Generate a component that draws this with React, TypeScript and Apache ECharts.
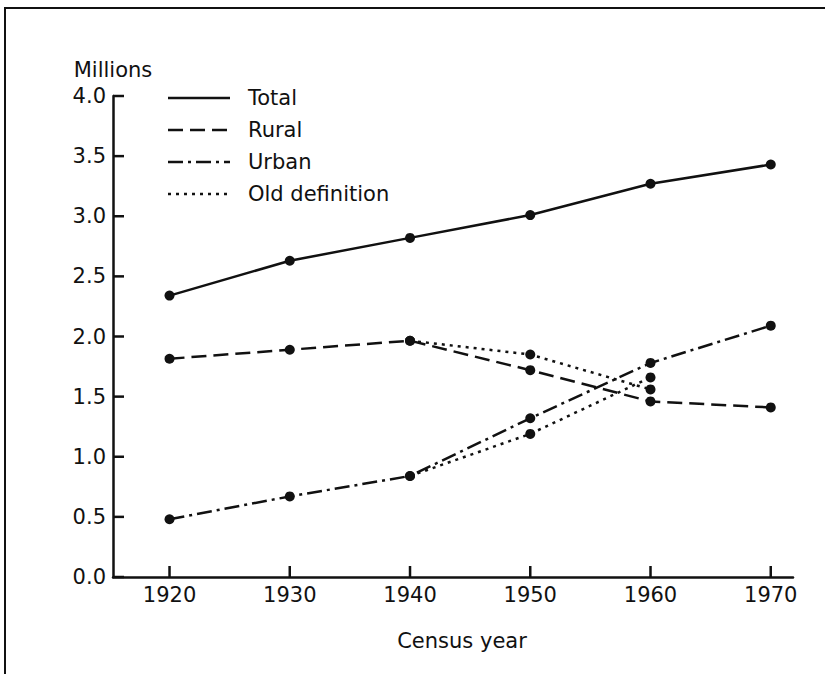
import React, { useEffect, useRef } from "react";
import * as echarts from "echarts";

const years = [1920, 1930, 1940, 1950, 1960, 1970];
const totalValues = [2.34, 2.63, 2.82, 3.01, 3.27, 3.43];
const ruralValues = [1.815, 1.89, 1.965, 1.72, 1.46, 1.41];
const urbanValues = [0.48, 0.67, 0.84, 1.32, 1.78, 2.09];
const oldYears = [1940, 1950, 1960];
const oldRuralValues = [1.965, 1.85, 1.56];
const oldUrbanValues = [0.84, 1.19, 1.66];
const yTicks = [0, 0.5, 1, 1.5, 2, 2.5, 3, 3.5, 4];
const legendNames = ["Total", "Rural", "Urban", "Old definition"];
const yAxisTitle = "Millions";
const xAxisTitle = "Census year";

const FONT = "DejaVu Sans";
const FS = 21;
const INK = "#111";
const TICK = 11;

const dashes: Record<string, any> = {
  Total: "solid",
  Rural: [15, 7],
  Urban: [15, 5, 3, 5],
  "Old definition": [3, 5],
};

export default function App() {
  const ref = useRef<HTMLDivElement>(null);
  useEffect(() => {
    document.body.style.margin = "0";
    if (!ref.current) return;
    const chart = echarts.init(ref.current, undefined, { renderer: "svg" });

    const mk = (name: string, xs: number[], vs: number[]) => ({
      type: "line",
      name,
      data: xs.map((x, i) => [x, vs[i]]),
      symbol: "circle",
      symbolSize: 10,
      itemStyle: { color: INK },
      lineStyle: { color: INK, width: 2.5, type: dashes[name] },
      silent: true,
    });

    const legendY = [98, 130, 162, 194];
    const legendGraphics: any[] = [];
    legendNames.forEach((n, i) => {
      legendGraphics.push({
        type: "line",
        shape: { x1: 168, y1: legendY[i], x2: 230, y2: legendY[i] },
        style: {
          stroke: INK,
          lineWidth: 2.5,
          lineDash: dashes[n] === "solid" ? null : dashes[n],
        },
      });
      legendGraphics.push({
        type: "text",
        x: 248,
        y: legendY[i],
        style: {
          text: n,
          fill: INK,
          font: `${FS}px "${FONT}"`,
          textAlign: "left",
          textVerticalAlign: "middle",
        },
      });
    });

    const baseGraphics: any[] = [
      {
        type: "polyline",
        shape: { points: [[5, 674], [5, 8], [825, 8]] },
        style: { stroke: INK, lineWidth: 2, fill: null },
      },
      ...legendGraphics,
      {
        type: "text",
        x: 462,
        y: 641,
        style: {
          text: xAxisTitle,
          fill: INK,
          font: `${FS}px "${FONT}"`,
          textAlign: "center",
          textVerticalAlign: "middle",
        },
      },
    ];

    chart.setOption({
      animation: false,
      backgroundColor: "#fff",
      grid: {
        left: 113,
        top: 96,
        right: 32,
        bottom: 97,
        containLabel: false,
        outerBoundsMode: "none",
      },
      xAxis: {
        type: "value",
        min: 1915.3,
        max: 1971.85,
        axisLine: { show: true, onZero: false, lineStyle: { color: INK, width: 2.5 } },
        axisTick: { show: false },
        axisLabel: {
          customValues: years,
          formatter: (v: number) => String(v),
          color: INK,
          fontFamily: FONT,
          fontSize: FS,
          margin: 7,
        },
        splitLine: { show: false },
      },
      yAxis: {
        type: "value",
        min: 0,
        max: 4,
        interval: 0.5,
        name: yAxisTitle,
        nameLocation: "end",
        nameGap: 16,
        nameTextStyle: { color: INK, fontFamily: FONT, fontSize: FS },
        axisLine: { show: true, lineStyle: { color: INK, width: 2.5 } },
        axisTick: { show: false },
        axisLabel: {
          formatter: (v: number) => v.toFixed(1),
          color: INK,
          fontFamily: FONT,
          fontSize: FS,
          margin: 7,
        },
        splitLine: { show: false },
      },
      graphic: baseGraphics,
      series: [
        mk("Total", years, totalValues),
        mk("Rural", years, ruralValues),
        mk("Urban", years, urbanValues),
        mk("Old definition", oldYears, oldRuralValues),
        mk("Old definition", oldYears, oldUrbanValues),
      ],
    });

    // Inward ticks placed through the chart's own scales
    const x0 = chart.convertToPixel({ gridIndex: 0 }, [1915.3, 0]) as number[];
    const tickGraphics: any[] = [];
    years.forEach((yr) => {
      const p = chart.convertToPixel({ gridIndex: 0 }, [yr, 0]) as number[];
      tickGraphics.push({
        type: "line",
        shape: { x1: p[0], y1: p[1], x2: p[0], y2: p[1] - TICK },
        style: { stroke: INK, lineWidth: 2.5 },
      });
    });
    yTicks.forEach((v) => {
      const p = chart.convertToPixel({ gridIndex: 0 }, [1915.3, v]) as number[];
      tickGraphics.push({
        type: "line",
        shape: { x1: x0[0], y1: p[1], x2: x0[0] + TICK, y2: p[1] },
        style: { stroke: INK, lineWidth: 2.5 },
      });
    });
    chart.setOption({ graphic: [...baseGraphics, ...tickGraphics] }, { replaceMerge: ["graphic"] });

    return () => chart.dispose();
  }, []);
  return <div ref={ref} style={{ width: 825, height: 674 }} />;
}
